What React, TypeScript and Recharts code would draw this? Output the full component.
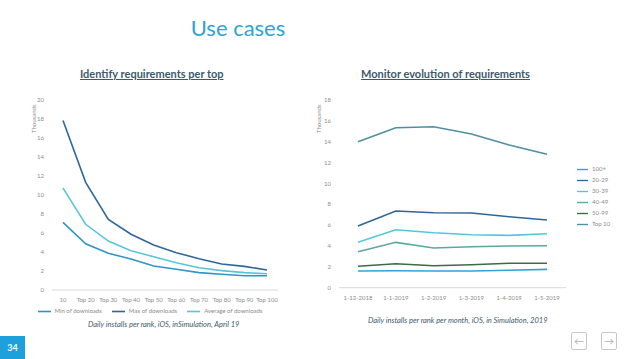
import { LineChart, Line, XAxis, YAxis, Legend } from "recharts";

// left chart: downloads per top rank (thousands)
const tops = ["10", "Top 20", "Top 30", "Top 40", "Top 50", "Top 60", "Top 70", "Top 80", "Top 90", "Top 100"];
const minDownloads = [7.1, 4.86, 3.85, 3.25, 2.52, 2.17, 1.82, 1.65, 1.5, 1.5];
const maxDownloads = [17.8, 11.3, 7.4, 5.85, 4.72, 3.92, 3.29, 2.73, 2.48, 2.1];
const avgDownloads = [10.7, 6.9, 5.14, 4.13, 3.5, 2.87, 2.34, 2.03, 1.82, 1.71];
const leftTicks = [0, 2, 4, 6, 8, 10, 12, 14, 16, 18, 20];

// right chart: monthly installs per rank bucket (thousands)
const months = ["1-12-2018", "1-1-2019", "1-2-2019", "1-3-2019", "1-4-2019", "1-5-2019"];
const rank100plus = [1.6, 1.63, 1.6, 1.6, 1.67, 1.76];
const rank20to29 = [5.92, 7.35, 7.19, 7.16, 6.81, 6.49];
const rank30to39 = [4.35, 5.56, 5.27, 5.08, 5.02, 5.18];
const rank40to49 = [3.45, 4.35, 3.81, 3.93, 4.0, 4.03];
const rank50to99 = [2.05, 2.3, 2.11, 2.2, 2.34, 2.34];
const top10 = [14.0, 15.34, 15.44, 14.74, 13.68, 12.79];
const rightTicks = [0, 2, 4, 6, 8, 10, 12, 14, 16, 18];

const topData = tops.map((t, i) => ({
  top: t,
  min: minDownloads[i],
  max: maxDownloads[i],
  avg: avgDownloads[i],
}));

const monthData = months.map((m, i) => ({
  month: m,
  r100: rank100plus[i],
  r20: rank20to29[i],
  r30: rank30to39[i],
  r40: rank40to49[i],
  r50: rank50to99[i],
  t10: top10[i],
}));

const FONT = "Lato, 'Open Sans', sans-serif";
const GREY = "#8c8c8c";
const tickStyle = { fontSize: 6, fill: GREY, fontFamily: FONT };

// legend text stays grey, only the icon takes the series colour
const legendText = (value: string) => <span style={{ color: GREY }}>{value}</span>;

const chartTitle: React.CSSProperties = {
  position: "absolute",
  top: 67,
  fontFamily: FONT,
  fontWeight: 700,
  fontSize: 11,
  color: "#3d5a6c",
  textDecoration: "underline",
  whiteSpace: "nowrap",
};

const caption: React.CSSProperties = {
  position: "absolute",
  fontFamily: FONT,
  fontStyle: "italic",
  fontSize: 7.5,
  color: "#3d5a6c",
  whiteSpace: "nowrap",
};

const thousands: React.CSSProperties = {
  position: "absolute",
  fontFamily: FONT,
  fontSize: 6,
  color: GREY,
  transform: "rotate(-90deg)",
  transformOrigin: "left top",
  whiteSpace: "nowrap",
};

const navBox: React.CSSProperties = {
  position: "absolute",
  top: 332,
  width: 14,
  height: 16,
  border: "1px solid #c8c8c8",
  borderRadius: 2,
  color: "#b0b0b0",
  fontSize: 10,
  lineHeight: "16px",
  textAlign: "center",
  fontFamily: FONT,
};

export default function App() {
  return (
    <div style={{ position: "absolute", left: 0, top: 0, width: 638, height: 359, background: "#fff", overflow: "hidden" }}>
      <div
        style={{
          position: "absolute",
          top: 14,
          left: 0,
          width: 476,
          textAlign: "center",
          fontFamily: FONT,
          fontWeight: 400,
          fontSize: 22,
          color: "#2ea3d5",
        }}
      >
        Use cases
      </div>

      <div style={{ ...chartTitle, left: 80 }}>Identify requirements per top</div>
      <div style={{ ...chartTitle, left: 361 }}>Monitor evolution of requirements</div>

      <div style={{ ...thousands, left: 30, top: 133 }}>Thousands</div>
      <div style={{ ...thousands, left: 315, top: 133 }}>Thousands</div>

      <div style={{ position: "absolute", left: 0, top: 0 }}>
        <LineChart width={300} height={325} data={topData} margin={{ top: 99.5, right: 22, left: 32, bottom: 8 }}>
          <XAxis
            dataKey="top"
            tick={tickStyle}
            tickLine={false}
            axisLine={{ stroke: "#d9d9d9" }}
            height={15}
            interval={0}
            padding={{ left: 11, right: 11 }}
          />
          <YAxis
            domain={[0, 20]}
            ticks={leftTicks}
            tick={tickStyle}
            tickLine={false}
            axisLine={false}
            width={20}
            interval={0}
          />
          <Legend
            verticalAlign="bottom"
            height={12}
            iconType="plainline"
            iconSize={13}
            itemSorter={null as any}
            formatter={legendText}
            wrapperStyle={{ fontSize: 6, fontFamily: FONT, whiteSpace: "nowrap", lineHeight: "12px" }}
          />
          <Line dataKey="min" name="Min of downloads" stroke="#2f95c6" strokeWidth={1.6} dot={false} isAnimationActive={false} />
          <Line dataKey="max" name="Max of downloads" stroke="#2e679a" strokeWidth={1.6} dot={false} isAnimationActive={false} />
          <Line dataKey="avg" name="Average of downloads" stroke="#55c6da" strokeWidth={1.6} dot={false} isAnimationActive={false} />
        </LineChart>
      </div>

      <div style={{ position: "absolute", left: 300, top: 0 }}>
        <LineChart width={338} height={325} data={monthData} margin={{ top: 100, right: 28, left: 19, bottom: 22.3 }}>
          <XAxis
            dataKey="month"
            tick={tickStyle}
            tickLine={false}
            axisLine={{ stroke: "#d9d9d9" }}
            height={15}
            interval={0}
            padding={{ left: 19, right: 19 }}
          />
          <YAxis
            domain={[0, 18]}
            ticks={rightTicks}
            tick={tickStyle}
            tickLine={false}
            axisLine={false}
            width={20}
            interval={0}
          />
          <Legend
            layout="vertical"
            align="right"
            verticalAlign="middle"
            width={44}
            iconType="plainline"
            iconSize={11}
            itemSorter={null as any}
            formatter={legendText}
            wrapperStyle={{ top: 164, left: 277, right: "auto", fontSize: 6, fontFamily: FONT, lineHeight: "10px", whiteSpace: "nowrap" }}
          />
          <Line dataKey="r100" name="100+" stroke="#2ea4d6" strokeWidth={1.6} dot={false} isAnimationActive={false} />
          <Line dataKey="r20" name="20-29" stroke="#2e679a" strokeWidth={1.6} dot={false} isAnimationActive={false} />
          <Line dataKey="r30" name="30-39" stroke="#55c6da" strokeWidth={1.6} dot={false} isAnimationActive={false} />
          <Line dataKey="r40" name="40-49" stroke="#5ba89f" strokeWidth={1.6} dot={false} isAnimationActive={false} />
          <Line dataKey="r50" name="50-99" stroke="#3b6b47" strokeWidth={1.6} dot={false} isAnimationActive={false} />
          <Line dataKey="t10" name="Top 10" stroke="#4f8fa1" strokeWidth={1.6} dot={false} isAnimationActive={false} />
        </LineChart>
      </div>

      <div style={{ ...caption, left: 88, top: 320 }}>Daily installs per rank, iOS, inSimulation, April 19</div>
      <div style={{ ...caption, left: 368, top: 316 }}>Daily installs per rank per month, iOS, in Simulation, 2019</div>

      <div
        style={{
          position: "absolute",
          left: 0,
          top: 336,
          width: 25,
          height: 23,
          background: "#1ea0dc",
          color: "#fff",
          fontFamily: FONT,
          fontWeight: 700,
          fontSize: 9,
          lineHeight: "23px",
          textAlign: "center",
        }}
      >
        34
      </div>

      <div style={{ ...navBox, left: 571 }}>←</div>
      <div style={{ ...navBox, left: 601 }}>→</div>
    </div>
  );
}
